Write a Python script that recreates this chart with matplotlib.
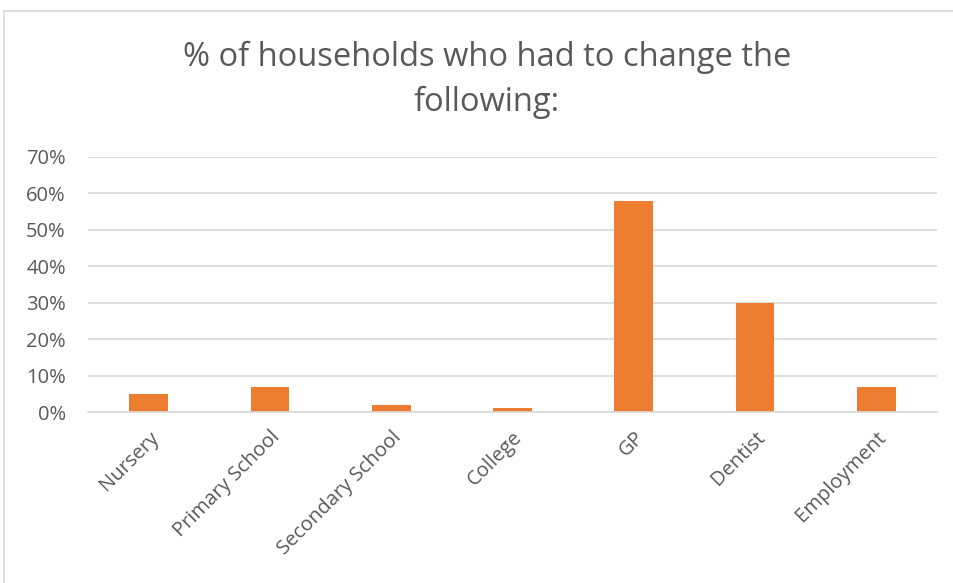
import matplotlib
matplotlib.use("Agg")
import matplotlib.pyplot as plt
from matplotlib.patches import Rectangle
from matplotlib.ticker import PercentFormatter

categories = ["Nursery", "Primary School", "Secondary School", "College", "GP", "Dentist", "Employment"]
shares = [0.05, 0.07, 0.02, 0.01, 0.58, 0.30, 0.07]
y_ticks = [0, 0.1, 0.2, 0.3, 0.4, 0.5, 0.6, 0.7]

plt.rcParams["font.family"] = ["Open Sans", "DejaVu Sans"]
text_grey = "#595959"
grid_grey = "#d9d9d9"

fig = plt.figure(figsize=(9.54, 5.83), dpi=100)

# chart frame like the Excel chart area border
fig.patches.append(Rectangle((4 / 954, -0.05), 1.1, 1 - 11 / 583 + 0.05,
                             transform=fig.transFigure, fill=False,
                             edgecolor=grid_grey, linewidth=1.2))

ax = fig.add_axes([88 / 954, 1 - 412 / 583, (937 - 88) / 954, 255 / 583])
x = range(len(categories))
ax.bar(x, shares, width=0.32, color="#ed7d31")

ax.set_xlim(-0.5, len(categories) - 0.5)
ax.set_ylim(0, 0.7)
ax.set_yticks(y_ticks)
ax.yaxis.set_major_formatter(PercentFormatter(1.0, decimals=0))
ax.set_xticks(list(x))
ax.set_xticklabels(categories, rotation=45, ha="right", rotation_mode="anchor")
ax.tick_params(axis="both", length=0, labelsize=14.5, colors=text_grey)
ax.tick_params(axis="x", pad=11)
ax.tick_params(axis="y", pad=16)

ax.grid(axis="y", color=grid_grey, linewidth=1.2)
ax.set_axisbelow(True)
for side in ["top", "right", "left"]:
    ax.spines[side].set_visible(False)
ax.spines["bottom"].set_color(grid_grey)
ax.spines["bottom"].set_linewidth(1.2)

fig.text(487 / 954, 1 - 57 / 583, "% of households who had to change the",
         ha="center", va="center", fontsize=23.5, color=text_grey)
fig.text(487 / 954, 1 - 102 / 583, "following:",
         ha="center", va="center", fontsize=23.5, color=text_grey)

fig.savefig("out.png", dpi=100)
